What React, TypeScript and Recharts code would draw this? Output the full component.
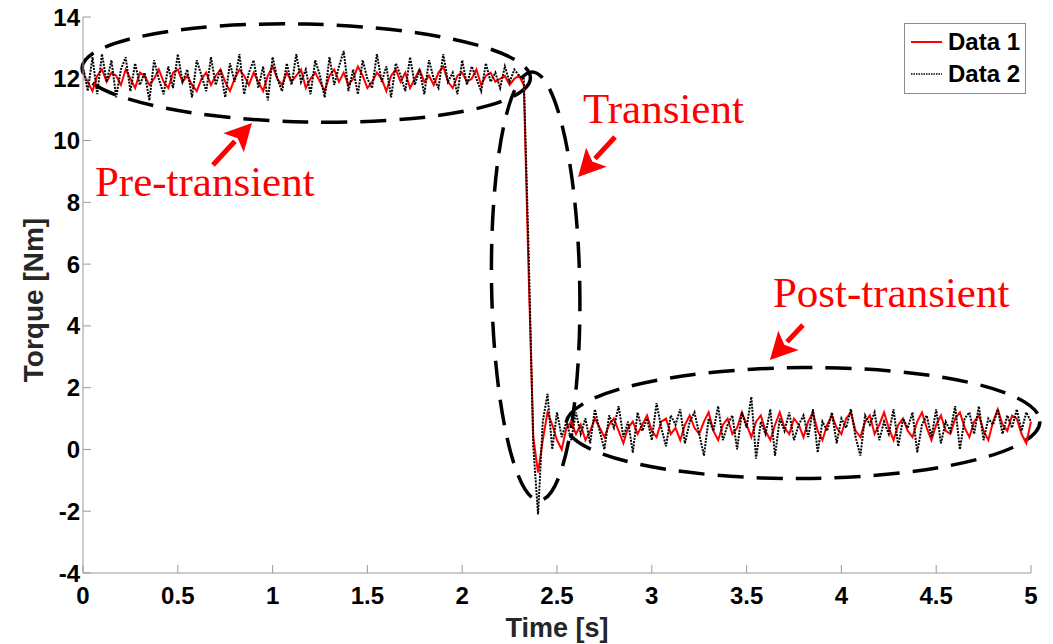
import React from "react";
import {LineChart, Line, XAxis, YAxis, Legend, ReferenceArea, ReferenceDot} from "recharts";

// sample spacing of the recorded torque, seconds
const STEP = 0.025

// Data 1 (red, solid)
const data1 = [
    12.2, 11.9, 11.6, 12.1, 12.3, 11.9, 12.2, 12.1, 11.8, 12.3,
    12.0, 11.7, 12.2, 12.1, 11.8, 12.0, 12.3, 11.9, 11.7, 12.2,
    12.3, 11.9, 12.1, 11.8, 11.6, 12.0, 12.2, 11.8, 12.1, 12.3,
    11.9, 11.6, 12.0, 12.3, 12.1, 11.8, 12.2, 11.9, 11.6, 12.1,
    12.4, 12.0, 11.8, 12.2, 11.9, 12.1, 12.3, 11.7, 12.0, 12.2,
    11.9, 11.6, 12.1, 12.3, 11.9, 12.2, 11.8, 12.0, 12.4, 12.1,
    11.7, 11.9, 12.2, 12.0, 11.6, 12.1, 12.3, 11.9, 12.2, 11.7,
    12.0, 12.3, 11.9, 12.1, 11.8, 12.2, 12.4, 11.9, 11.7, 12.1,
    12.2, 11.9, 12.0, 12.3, 11.8, 12.1, 12.2, 11.9, 12.0, 12.1,
    11.8, 12.0, 12.1,
    11.8, 5.8, 0.4, -0.75, 0.3, 1.2, 0.8, 0.3, 0.0,
    0.7, 0.9, 0.5, 0.8, 0.3, 0.6, 1.0, 0.7, 0.4, 0.8,
    1.0, 0.6, 0.2, 0.7, 0.9, 0.5, 0.8, 1.1, 0.6, 0.4,
    0.9, 1.0, 0.5, 0.7, 0.3, 0.8, 1.1, 0.7, 0.5, 0.9,
    1.2, 0.6, 0.3, 0.8, 1.0, 0.5, 0.7, 1.2, 0.8, 0.4,
    0.9, 1.1, 0.6, 0.3, 0.8, 1.2, 0.7, 0.5, 1.0, 0.8,
    0.4, 0.9, 1.2, 0.6, 0.3, 0.8, 1.1, 0.7, 0.5, 1.0,
    1.2, 0.6, 0.4, 0.9, 1.1, 0.5, 0.8, 1.2, 0.7, 0.3,
    0.8, 1.0, 0.6, 0.4, 0.9, 1.2, 0.7, 0.3, 0.8, 1.1,
    0.6, 0.5, 1.0, 1.2, 0.7, 0.4, 0.9, 1.1, 0.6, 0.3,
    0.9, 1.3, 0.8, 0.6, 1.1, 1.0, 0.5, 0.2, 0.9,
]

// Data 2 (black, dotted)
const data2 = [
    12.4, 11.6, 12.7, 11.5, 12.8, 11.9, 12.6, 11.4, 12.3, 12.7,
    11.6, 12.5, 11.8, 12.2, 11.3, 12.6, 12.0, 11.5, 12.4, 11.7,
    12.8, 11.9, 12.3, 11.4, 12.6, 12.1, 11.6, 12.7, 11.8, 12.3,
    11.4, 12.5, 11.9, 12.8, 11.5, 12.2, 12.6, 11.7, 12.4, 11.3,
    12.7, 12.0, 11.6, 12.5, 11.8, 12.8, 11.9, 12.3, 11.5, 12.6,
    12.1, 11.4, 12.7, 11.8, 12.4, 12.9, 11.6, 12.3, 11.5, 12.6,
    12.0, 11.7, 12.8, 11.9, 12.4, 11.4, 12.5, 12.1, 11.6, 12.7,
    11.8, 12.3, 11.5, 12.6, 12.0, 11.7, 12.8, 11.9, 12.2, 11.5,
    12.6, 11.8, 12.4, 12.0, 11.6, 12.5, 11.9, 12.2, 11.7, 12.4,
    11.9, 12.3, 12.1,
    12.0, 6.5, 0.1, -2.1, 0.9, 1.8, 0.0, 1.2, 0.4,
    0.9, 0.3, 1.2, 0.5, 1.0, 0.2, 1.3, 0.6, 0.0, 1.1,
    0.7, 1.4, 0.4, 0.9, -0.1, 1.2, 0.6, 1.0, 0.3, 1.5,
    0.7, 0.1, 1.1, 0.8, 1.3, 0.2, 0.9, 1.2, 0.5, -0.2,
    1.0, 0.6, 1.4, 0.3, 0.8, 1.1, 0.0, 1.2, 0.7, 1.7,
    -0.3, 0.9, 0.5, 1.3, -0.2, 1.0, 0.6, 1.2, 0.3, 0.8,
    1.1, 0.4, 1.3, -0.1, 0.9, 0.6, 1.2, 0.2, 1.0, 0.7,
    1.3, 0.4, -0.2, 1.1, 0.8, 1.2, 0.3, 0.9, 0.5, 1.3,
    0.1, 1.0, 0.7, 1.2, -0.1, 0.8, 1.1, 0.4, 1.3, 0.2,
    0.9, 0.6, 1.4, 0.0, 1.0, 1.2, 0.5, 1.4, 0.3, 1.0,
    0.8, 1.3, 0.5, 1.1, 0.7, 1.3, 0.6, 1.2, 0.9,
]

const xTicks = [0, 0.5, 1, 1.5, 2, 2.5, 3, 3.5, 4, 4.5, 5]
const yTicks = [-4, -2, 0, 2, 4, 6, 8, 10, 12, 14]

const rows = data1.map((v, i) => ({t: Number((i * STEP).toFixed(3)), d1: v, d2: data2[i]}))

const SANS = "'Liberation Sans', Arial, sans-serif"
const SERIF = "'Liberation Serif', 'Times New Roman', serif"
const tickStyle = {fill: "#000", fontSize: 24, fontWeight: 700, fontFamily: SANS}

const dashedEllipse = (tilt: number) => (p: any) => {
    const cx = p.x + p.width / 2
    const cy = p.y + p.height / 2
    return <ellipse cx={cx} cy={cy} rx={Math.abs(p.width) / 2} ry={Math.abs(p.height) / 2}
                    transform={`rotate(${tilt} ${cx} ${cy})`}
                    fill="none" stroke="#000" strokeWidth={3.5} strokeDasharray="26 13"/>
}

// red label + arrow, anchored at the arrow tip
const annotation = (label: string, textAt: [number, number], tailAt: [number, number]) => (p: any) => {
    const {cx, cy} = p
    const tx = cx + tailAt[0], ty = cy + tailAt[1]
    const len = Math.hypot(cx - tx, cy - ty)
    const ux = (cx - tx) / len, uy = (cy - ty) / len
    const bx = cx - ux * 27, by = cy - uy * 27
    const hw = 14
    return <g>
        <line x1={tx} y1={ty} x2={bx + ux * 2} y2={by + uy * 2} stroke="#ff0000" strokeWidth={5}/>
        <polygon points={`${cx},${cy} ${bx - uy * hw},${by + ux * hw} ${bx + ux * 6},${by + uy * 6} ${bx + uy * hw},${by - ux * hw}`}
                 fill="#ff0000"/>
        <text x={cx + textAt[0]} y={cy + textAt[1]} fill="#ff0000" fontFamily={SERIF} fontSize={43}>{label}</text>
    </g>
}

const LegendBox = () => <div style={{
    border: "1px solid #8c8c8c", background: "#fff", width: 120, height: 67, boxSizing: "content-box",
    fontFamily: SANS, fontWeight: 700, fontSize: 24, color: "#000", paddingTop: 2
}}>
    {[{name: "Data 1", color: "#ff0000", dash: undefined, w: 2},
        {name: "Data 2", color: "#000", dash: "1.5 1", w: 1.5}].map(item =>
        <div key={item.name} style={{display: "flex", alignItems: "center", height: 32, lineHeight: "32px"}}>
            <svg width={37} height={32} style={{marginLeft: 6}}>
                <line x1={0} y1={16} x2={31} y2={16} stroke={item.color} strokeWidth={item.w}
                      strokeDasharray={item.dash}/>
            </svg>
            <span>{item.name}</span>
        </div>)}
</div>

const renderYLabel = (props: any) => {
    const vb = props.viewBox
    const x = vb.x + 33
    const y = vb.y + vb.height / 2 + 5
    return <text x={x} y={y} transform={`rotate(-90 ${x} ${y})`} textAnchor="middle" dominantBaseline="central"
                 fill="#262626" fontFamily={SANS} fontWeight={700} fontSize={28}>Torque [Nm]</text>
}

const renderXLabel = (props: any) => {
    const vb = props.viewBox
    return <text x={vb.x + vb.width / 2} y={vb.y + 64} textAnchor="middle"
                 fill="#262626" fontFamily={SANS} fontWeight={700} fontSize={27}>Time [s]</text>
}

export default function App() {
    // cancel the body margin so the chart covers the whole 1053x644 window
    return <div style={{margin: "-8px 0 0 -8px", width: 1053, height: 644}}>
        <LineChart width={1053} height={644} data={rows} margin={{top: 17, right: 22, left: 0, bottom: 0}}>
            <XAxis dataKey="t" type="number" domain={[0, 5]} ticks={xTicks} interval={0} stroke="#9a9a9a"
                   tickSize={-8} tickMargin={22} tick={tickStyle} height={71} label={renderXLabel}/>
            <XAxis xAxisId="top" dataKey="t" type="number" domain={[0, 5]} ticks={xTicks} orientation="top"
                   stroke="#9a9a9a" tickSize={-8} tick={false} height={0}/>
            <YAxis type="number" domain={[-4, 14]} ticks={yTicks} interval={0} stroke="#9a9a9a"
                   tickSize={-8} tickMargin={11} tick={tickStyle} width={83} label={renderYLabel}/>
            <YAxis yAxisId="right" type="number" domain={[-4, 14]} ticks={yTicks} orientation="right"
                   stroke="#9a9a9a" tickSize={-8} tick={false} width={0}/>
            <Line dataKey="d1" name="Data 1" stroke="#ff0000" strokeWidth={2} dot={false} type="linear"
                  isAnimationActive={false}/>
            <Line dataKey="d2" name="Data 2" stroke="#000" strokeWidth={2} strokeDasharray="2 1.2" dot={false}
                  type="linear" isAnimationActive={false}/>
            <ReferenceArea x1={-0.005} x2={2.36} y1={10.6} y2={13.77} ifOverflow="visible"
                           shape={dashedEllipse(1.3)}/>
            <ReferenceArea x1={2.155} x2={2.62} y1={-1.65} y2={12.22} ifOverflow="visible"
                           shape={dashedEllipse(-1)}/>
            <ReferenceArea x1={2.547} x2={5.047} y1={-0.94} y2={2.65} ifOverflow="visible"
                           shape={dashedEllipse(-0.4)}/>
            <ReferenceDot x={0.891} y={10.57} ifOverflow="visible"
                          shape={annotation("Pre-transient", [-157, 73], [-39, 42])}/>
            <ReferenceDot x={2.611} y={8.82} ifOverflow="visible"
                          shape={annotation("Transient", [5, -54], [37, -40])}/>
            <ReferenceDot x={3.623} y={2.894} ifOverflow="visible"
                          shape={annotation("Post-transient", [3, -53], [33, -35])}/>
            <Legend layout="horizontal" verticalAlign="middle" align="center"
                    wrapperStyle={{top: 23, left: 904, right: "auto", bottom: "auto", width: 122, height: 71}}
                    content={() => <LegendBox/>}/>
        </LineChart>
    </div>
}
